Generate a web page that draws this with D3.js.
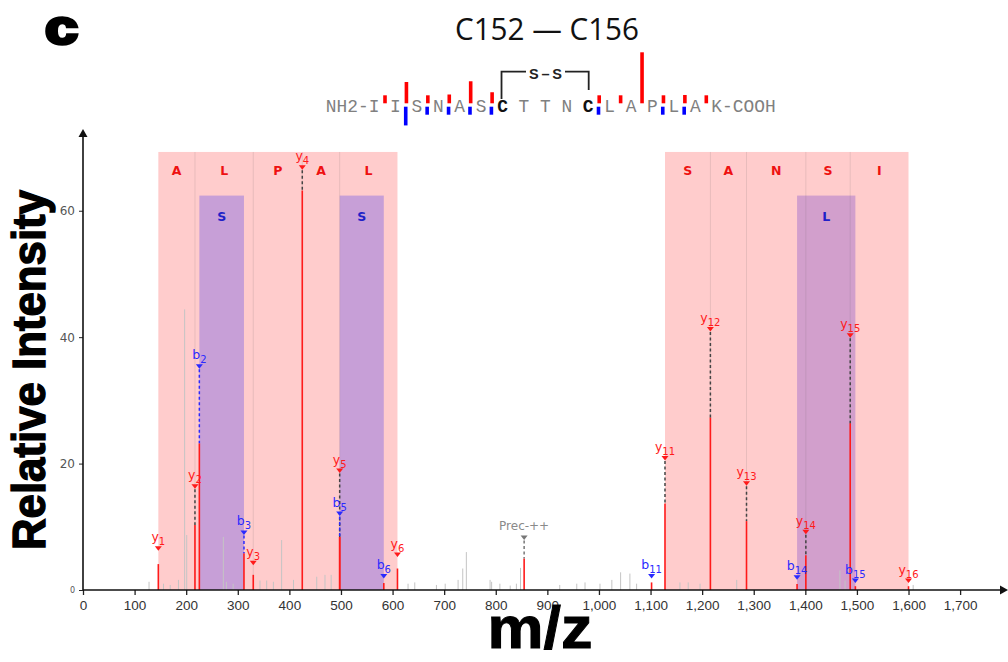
<!DOCTYPE html>
<html><head><meta charset="utf-8">
<script src="https://cdn.jsdelivr.net/npm/d3@7"></script>
<style>body{margin:0;background:#fff;} svg{display:block}</style>
</head><body>
<svg id="chart" width="1008" height="662"></svg>
<script>
// ---------------- DATA ----------------
const peptide = ["I","I","S","N","A","S","C","T","T","N","C","L","A","P","L","A","K"];
const disulfide = [6, 10]; // residue indices (C152, C156)
const titleText = "C152 — C156";
const panelLetter = "c";

const ionNames = ["y1","y2","b2","b3","y3","y4","y5","b5","b6","y6","Prec-++","b11","y11","y12","y13","b14","y14","y15","b15","y16"];
const ionMz = [146,217,225.5,312,330,425,497.5,497.5,583,609.5,855,1102,1128,1216,1286,1384,1401,1487,1497,1600];
const ionIntensity = [4.1,10.3,23.2,5.8,2.4,63.2,8.4,8.4,1.1,3.4,5.0,1.2,13.7,27.3,10.9,0.95,5.5,26.4,0.6,0.6];
const ionLabelLevel = [6.6,16.4,35.4,9.1,4.3,66.9,18.9,12.1,2.2,5.6,8.3,2.2,20.9,41.3,16.9,2.0,9.2,40.3,1.5,1.5];
// ion matched but label hidden under another peak (b4 ~ y4)
const hiddenIonNames = ["b4"];
const hiddenIonIntensity = [1.0];

const noiseMz = [128,156,169,185,197,201,272,278,291,343,356,369,385,408,453,469,481,630,643,685,702,727,736,743,789,792,808,828,840,848,924,957,973,1002,1025,1042,1060,1073,1157,1173,1196,1267,1467,1477,1609];
const noiseIntensity = [1.3,1.0,0.8,1.6,44.4,8.7,8.4,1.3,1.0,1.5,1.5,1.3,7.9,1.6,2.1,2.4,2.4,1.0,1.2,0.8,1.0,1.6,3.4,6.0,1.6,1.3,1.0,0.7,1.0,3.5,0.8,1.0,1.2,1.0,1.6,2.8,2.6,1.0,1.2,1.2,1.0,1.6,3.1,1.5,0.8];

const xTicks = [0,100,200,300,400,500,600,700,800,900,1000,1100,1200,1300,1400,1500,1600,1700];
const yTicks = [0,20,40,60];
const xLabel = "m/z";
const yLabel = "Relative Intensity";

// ---------------- LAYOUT ----------------
const svg = d3.select("#chart");
const X0 = 83, X1 = 1005, Y0 = 590, YT = 133;
const x = d3.scaleLinear().domain([0, 1787]).range([X0, X1]);
const y = d3.scaleLinear().domain([0, 72.3]).range([Y0, YT]);
const RED = "#ff1a1a", BLUE = "#2a2aff";

const ions = ionNames.map((n, i) => ({name: n, mz: ionMz[i], inten: ionIntensity[i], lab: ionLabelLevel[i],
  type: n[0] === "y" ? "y" : (n[0] === "b" ? "b" : "p"), num: +n.slice(1) || 0}));

// ---- title & panel letter
svg.append("text").attr("x", 45).attr("y", 44).text(panelLetter)
  .attr("font-family", "Liberation Sans, Arial, sans-serif").attr("font-weight", "bold")
  .attr("font-size", 49).attr("fill", "#000").attr("stroke", "#000").attr("stroke-width", 3.5)
  .attr("textLength", 33).attr("lengthAdjust", "spacingAndGlyphs");
svg.append("text").attr("x", 547).attr("y", 40).attr("text-anchor", "middle").text(titleText)
  .attr("font-family", "Open Sans, sans-serif").attr("font-size", 31).attr("fill", "#111")
  .attr("textLength", 184).attr("lengthAdjust", "spacingAndGlyphs");

// ---- regions from consecutive ion ladders
function ladders(type) {
  const list = ions.filter(d => d.type === type).sort((a, b) => a.num - b.num);
  const runs = []; let cur = [];
  list.forEach(d => {
    if (cur.length && d.num === cur[cur.length - 1].num + 1) cur.push(d);
    else { if (cur.length > 1) runs.push(cur); cur = [d]; }
  });
  if (cur.length > 1) runs.push(cur);
  return runs;
}
const L = peptide.length;
const gRegions = svg.append("g");
function drawY(run) {
  gRegions.append("rect").attr("x", x(run[0].mz)).attr("width", x(run[run.length-1].mz) - x(run[0].mz))
    .attr("y", y(69.3)).attr("height", y(0) - y(69.3)).attr("fill", "rgba(255,0,0,0.2)");
}
function drawB(run) {
  gRegions.append("rect").attr("x", x(run[0].mz)).attr("width", x(run[run.length-1].mz) - x(run[0].mz))
    .attr("y", y(62.4)).attr("height", y(0) - y(62.4)).attr("fill", "rgba(0,0,255,0.22)");
}
const yRuns = ladders("y"), bRuns = ladders("b");
// left block: y then b ; right block: b then y
bRuns.filter(r => r[0].mz > 1000).forEach(drawB);
yRuns.forEach(drawY);
bRuns.filter(r => r[0].mz <= 1000).forEach(drawB);
// dividers and residue letters
yRuns.forEach(run => {
  run.forEach((d, i) => {
    if (i > 0 && i < run.length - 1)
      gRegions.append("line").attr("x1", x(d.mz)).attr("x2", x(d.mz)).attr("y1", y(69.3)).attr("y2", y(0))
        .attr("stroke", "rgba(90,90,90,0.14)").attr("stroke-width", 1);
    if (i > 0) {
      const prev = run[i-1];
      gRegions.append("text").attr("x", (x(prev.mz) + x(d.mz)) / 2).attr("y", y(66.5) + 5)
        .attr("text-anchor", "middle").text(peptide[L - d.num])
        .attr("font-family", "DejaVu Sans, sans-serif").attr("font-weight", "bold").attr("font-size", 12.5).attr("fill", "#ee1111");
    }
  });
});
bRuns.forEach(run => {
  run.forEach((d, i) => {
    if (i > 0) {
      const prev = run[i-1];
      gRegions.append("text").attr("x", (x(prev.mz) + x(d.mz)) / 2).attr("y", y(59.2) + 5)
        .attr("text-anchor", "middle").text(peptide[d.num - 1])
        .attr("font-family", "DejaVu Sans, sans-serif").attr("font-weight", "bold").attr("font-size", 12.5).attr("fill", "#2020c8");
    }
  });
});

// ---- noise peaks
svg.append("g").selectAll("line").data(noiseMz.map((m, i) => [m, noiseIntensity[i]])).join("line")
  .attr("x1", d => x(d[0])).attr("x2", d => x(d[0])).attr("y1", y(0)).attr("y2", d => y(d[1]))
  .attr("stroke", "#c4c4c4").attr("stroke-width", 1);

// ---- annotated peaks
const gP = svg.append("g");
gP.selectAll("line.pk").data(ions).join("line").attr("class", "pk")
  .attr("x1", d => x(d.mz)).attr("x2", d => x(d.mz)).attr("y1", y(0)).attr("y2", d => y(d.inten))
  .attr("stroke", RED).attr("stroke-width", 1.6);
const labColor = d => d.type === "y" ? RED : d.type === "b" ? BLUE : "#8a8a8a";
const dashColor = d => d.type === "y" ? "#444" : d.type === "b" ? BLUE : "#777";
gP.selectAll("line.ds").data(ions.filter(d => y(d.inten) - y(d.lab) > 18)).join("line").attr("class", "ds")
  .attr("x1", d => x(d.mz)).attr("x2", d => x(d.mz)).attr("y1", d => y(d.lab) + 3).attr("y2", d => y(d.inten))
  .attr("stroke", dashColor).attr("stroke-width", 1.5).attr("stroke-dasharray", "3,2.5");
gP.selectAll("path.tri").data(ions).join("path").attr("class", "tri")
  .attr("d", d => { const cx = x(d.mz), cy = y(d.lab); return `M${cx-3.5},${cy-2}L${cx+3.5},${cy-2}L${cx},${cy+2.5}Z`; })
  .attr("fill", d => d.type === "p" ? "#777" : labColor(d));
const lab = gP.selectAll("text.lb").data(ions).join("text").attr("class", "lb")
  .attr("x", d => x(d.mz)).attr("y", d => y(d.lab) - 7).attr("text-anchor", "middle")
  .attr("font-family", "DejaVu Sans, Verdana, sans-serif").attr("fill", labColor);
lab.each(function(d) {
  const t = d3.select(this);
  if (d.type === "p") { t.attr("font-size", 12).attr("y", y(d.lab) - 8).text(d.name); return; }
  t.append("tspan").attr("font-size", 12.5).text(d.type);
  t.append("tspan").attr("font-size", 10).attr("dy", 4).text(d.num);
});

// ---- axes
const gx = svg.append("g").attr("transform", `translate(0,${Y0})`)
  .call(d3.axisBottom(x).tickValues(xTicks).tickFormat(d3.format(",")).tickSize(5).tickPadding(5));
gx.select(".domain").remove();
gx.selectAll("line").attr("stroke", "#222").attr("stroke-width", 1.3);
gx.selectAll("text").attr("font-family", "Liberation Sans, Arial, sans-serif").attr("font-size", 13.5).attr("fill", "#333");
const gy = svg.append("g").attr("transform", `translate(${X0},0)`)
  .call(d3.axisLeft(y).tickValues(yTicks).tickSize(4).tickPadding(4));
gy.select(".domain").remove();
gy.selectAll("line").attr("stroke", "#222");
gy.selectAll("text").attr("font-family", "DejaVu Sans, Verdana, sans-serif").attr("font-size", 12).attr("fill", "#555");
gy.selectAll(".tick").filter(d => d === 0).select("text").attr("font-size", 8);
svg.append("line").attr("x1", X0).attr("x2", X1 - 4).attr("y1", Y0).attr("y2", Y0).attr("stroke", "#111").attr("stroke-width", 1.6);
svg.append("line").attr("x1", X0).attr("x2", X0).attr("y1", Y0).attr("y2", YT).attr("stroke", "#111").attr("stroke-width", 1.6);
svg.append("path").attr("d", `M${X1+3},${Y0}L${X1-5},${Y0-4.5}L${X1-5},${Y0+4.5}Z`).attr("fill", "#111");
svg.append("path").attr("d", `M${X0},${YT-4}L${X0-4.5},${YT+4}L${X0+4.5},${YT+4}Z`).attr("fill", "#111");

svg.append("text").attr("x", 540).attr("y", 648).attr("text-anchor", "middle").text(xLabel)
  .attr("font-family", "Liberation Sans, Arial, sans-serif").attr("font-weight", "bold").attr("font-size", 60)
  .attr("fill", "#000").attr("stroke", "#000").attr("stroke-width", 1)
  .attr("textLength", 105).attr("lengthAdjust", "spacingAndGlyphs");
svg.append("text").attr("transform", "translate(45,370) rotate(-90)").attr("text-anchor", "middle").text(yLabel)
  .attr("font-family", "Liberation Sans, Arial, sans-serif").attr("font-weight", "bold").attr("font-size", 46)
  .attr("fill", "#000").attr("stroke", "#000").attr("stroke-width", 1.4)
  .attr("textLength", 360).attr("lengthAdjust", "spacingAndGlyphs");

// ---- peptide header
const hx0 = 325.8, cw = 10.71, hBase = 111.7;
const chars = ["N","H","2","-"];
peptide.forEach((r, i) => { chars.push(r); if (i < L - 1) chars.push(" "); });
"-COOH".split("").forEach(c => chars.push(c));
const hdr = svg.append("g");
chars.forEach((c, i) => {
  const resIdx = (i >= 4 && (i - 4) % 2 === 0 && (i - 4) / 2 < L) ? (i - 4) / 2 : -1;
  const isC = disulfide.includes(resIdx);
  hdr.append("text").attr("x", hx0 + i * cw).attr("y", hBase).text(c)
    .attr("font-family", "Liberation Mono, Courier New, monospace").attr("font-size", 17.85)
    .attr("font-weight", isC ? "bold" : "normal").attr("fill", isC ? "#111" : "#808080");
});
const resX = i => hx0 + (4 + 2 * i + 0.5) * cw;
const cutX = k => hx0 + (4 + 2 * k + 1.5) * cw;
const hScale = d3.scaleLinear().domain([0, 63.2]).range([0, 51]);
const hdrIons = ions.filter(d => d.type !== "p").map(d => ({type: d.type, num: d.num, inten: d.inten}))
  .concat(hiddenIonNames.map((n, i) => ({type: n[0], num: +n.slice(1), inten: hiddenIonIntensity[i]})));
hdrIons.forEach(d => {
  const k = d.type === "b" ? d.num - 1 : L - d.num - 1;
  const h = Math.max(8, hScale(d.inten));
  if (d.type === "y") hdr.append("rect").attr("x", cutX(k) - 1.5).attr("width", 3.6).attr("y", 103.3 - h).attr("height", h).attr("fill", "#ff0000");
  else hdr.append("rect").attr("x", cutX(k) - 2.2).attr("width", 3.6).attr("y", 106.7).attr("height", h).attr("fill", "#0000ff");
});
// disulfide bridge
const cxA = resX(disulfide[0]) - 1, cxB = resX(disulfide[1]) + 0.5;
hdr.append("path").attr("d", `M${cxA},99 L${cxA},71.7 L526,71.7 M565,71.7 L${cxB},71.7 L${cxB},90`)
  .attr("fill", "none").attr("stroke", "#222").attr("stroke-width", 1.8);
hdr.append("text").attr("x", 545.5).attr("y", 78.5).attr("text-anchor", "middle").text("S–S")
  .attr("font-family", "Liberation Sans, Arial, sans-serif").attr("font-weight", "bold").attr("font-size", 14.5)
  .attr("fill", "#222").attr("textLength", 33).attr("lengthAdjust", "spacing");
</script>
</body></html>
